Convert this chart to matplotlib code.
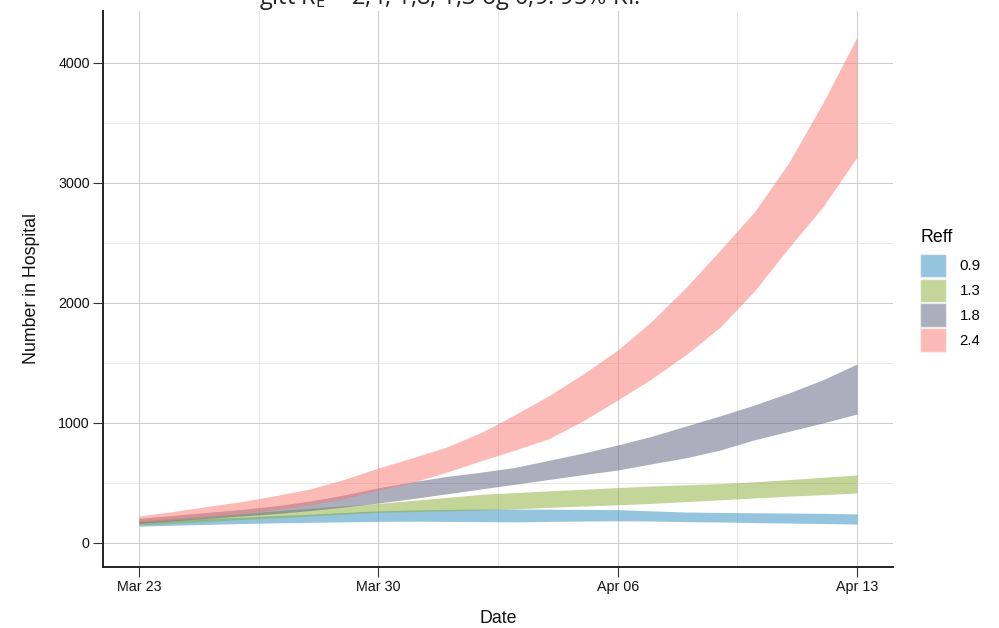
import numpy as np
import pandas as pd
import matplotlib
matplotlib.use("Agg")
import matplotlib.pyplot as plt
import matplotlib.dates as mdates
from matplotlib.patches import Patch
from matplotlib.ticker import MultipleLocator

# ---------------- data ----------------
dates = pd.date_range("2020-03-23", "2020-04-13", freq="D")

reff_labels = ["0.9", "1.3", "1.8", "2.4"]

blue_lo = [140, 148, 155, 162, 168, 172, 176, 180, 182, 180, 178, 176, 180, 183, 185, 183, 178, 175, 170, 166, 162, 158]
blue_hi = [175, 190, 205, 215, 228, 240, 255, 268, 275, 280, 283, 283, 282, 280, 278, 268, 258, 255, 252, 250, 247, 242]

green_lo = [150, 165, 180, 195, 210, 225, 240, 255, 262, 268, 274, 285, 297, 308, 318, 330, 345, 360, 375, 390, 403, 417]
green_hi = [185, 205, 225, 245, 268, 290, 310, 330, 355, 380, 405, 420, 435, 448, 462, 475, 485, 495, 510, 528, 548, 567]

gray_lo = [165, 185, 205, 225, 245, 270, 300, 333, 370, 410, 450, 490, 530, 570, 608, 660, 710, 775, 860, 930, 1000, 1075]
gray_hi = [205, 230, 255, 280, 310, 350, 400, 460, 510, 555, 590, 630, 690, 750, 817, 890, 975, 1060, 1150, 1250, 1360, 1492]

red_lo = [170, 193, 218, 245, 278, 318, 370, 440, 505, 590, 685, 775, 870, 1020, 1192, 1370, 1570, 1800, 2100, 2460, 2800, 3217]
red_hi = [225, 262, 305, 345, 395, 450, 530, 625, 710, 800, 920, 1070, 1230, 1410, 1608, 1850, 2130, 2442, 2760, 3167, 3667, 4217]

lows = [blue_lo, green_lo, gray_lo, red_lo]
highs = [blue_hi, green_hi, gray_hi, red_hi]
colors = ["#2d8bbf", "#8bad37", "#5b5f7d", "#fb7771"]

y_ticks = [0, 1000, 2000, 3000, 4000]
x_tick_dates = pd.to_datetime(["2020-03-23", "2020-03-30", "2020-04-06", "2020-04-13"])

# ---------------- style ----------------
plt.rcParams["font.family"] = ["Liberation Sans", "DejaVu Sans"]
plt.rcParams["mathtext.fontset"] = "custom"
plt.rcParams["mathtext.rm"] = "Open Sans"
plt.rcParams["mathtext.it"] = "Open Sans:italic"

W, H = 999, 628
fig = plt.figure(figsize=(W / 100, H / 100), dpi=100)
ax = fig.add_axes([103 / W, 1 - 567 / H, (893 - 103) / W, (567 - 11) / H])

for lo, hi, c in zip(lows, highs, colors):
    ax.fill_between(dates, lo, hi, color=c, alpha=0.5, linewidth=0, zorder=2)

# axes limits
ax.set_xlim(dates[0] - pd.Timedelta(days=1.05), dates[-1] + pd.Timedelta(days=1.05))
ax.set_ylim(-200, 4433)

ax.set_xticks(x_tick_dates)
ax.xaxis.set_major_formatter(mdates.DateFormatter("%b %d"))
ax.set_xticks(x_tick_dates[:-1] + pd.Timedelta(days=3.5), minor=True)
ax.set_yticks(y_ticks)
ax.yaxis.set_minor_locator(MultipleLocator(500))

ax.grid(which="major", color="#c4c4c4", linewidth=0.6, zorder=0)
ax.grid(which="minor", color="#e3e3e3", linewidth=0.6, zorder=0)
ax.set_axisbelow(True)

for s in ["top", "right"]:
    ax.spines[s].set_visible(False)
for s in ["left", "bottom"]:
    ax.spines[s].set_linewidth(1.4)
    ax.spines[s].set_color("#222222")

ax.tick_params(which="major", length=7, width=0.8, color="#333333", labelsize=10.3,
               labelcolor="#111111", pad=2.5)
ax.tick_params(which="minor", length=0)

ax.set_xlabel("Date", fontsize=12.8, labelpad=11.5, color="#111111")
ax.set_ylabel("Number in Hospital", fontsize=12.8, labelpad=13, color="#111111")

# legend
handles = [Patch(facecolor=c, alpha=0.5, edgecolor="white", linewidth=1.0) for c in colors]
leg = fig.legend(handles, reff_labels, title="Reff", loc="upper left",
                 bbox_to_anchor=(920 / W, 1 - 229 / H), frameon=False,
                 fontsize=10.8, title_fontsize=12.8, handlelength=1.75, handleheight=2.05,
                 labelspacing=0.08, handletextpad=0.9, borderpad=0, borderaxespad=0,
                 alignment="left")
leg._legend_box.sep = 5.5

# title (cut off at top of image)
fig.text(450 / W, 1 - 3.5 / H,
         r"gitt $\mathrm{R}_{\mathrm{E}}$ = 2,4, 1,8, 1,3 og 0,9: 95% KI.",
         ha="center", va="baseline", fontsize=17, family="Open Sans", color="#222222")

fig.savefig("out.png", dpi=100)
